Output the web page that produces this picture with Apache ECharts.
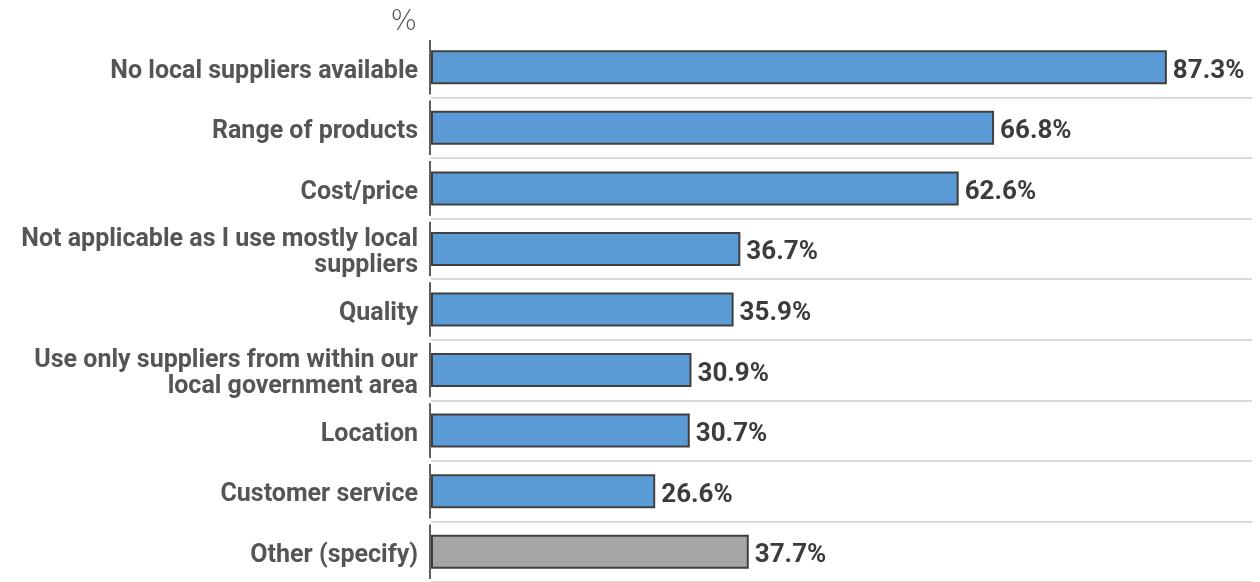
<!DOCTYPE html>
<html>
<head>
<meta charset="utf-8">
<script src="https://cdn.jsdelivr.net/npm/echarts@6/dist/echarts.min.js"></script>
<style>
  html, body { margin: 0; padding: 0; background: #ffffff; }
  #chart { width: 1260px; height: 582px; }
</style>
</head>
<body>
<div id="chart"></div>
<script>
// Reasons for buying from non-local suppliers, % of respondents
const categories = [
  'No local suppliers available',
  'Range of products',
  'Cost/price',
  'Not applicable as I use mostly local\nsuppliers',
  'Quality',
  'Use only suppliers from within our\nlocal government area',
  'Location',
  'Customer service',
  'Other (specify)'
];
const values = [87.3, 66.8, 62.6, 36.7, 35.9, 30.9, 30.7, 26.6, 37.7];
const otherIndex = 8;

const BLUE = '#5b9bd5';
const GREY = '#a5a5a5';
const LABEL = '#555555';
const VALUE = '#3c3c3c';
const FONT = 'Roboto';

const chart = echarts.init(document.getElementById('chart'), null, { renderer: 'canvas' });

chart.setOption({
  animation: false,
  backgroundColor: '#ffffff',
  graphic: [{
    type: 'text',
    right: 843,
    top: 9,
    style: { text: '%', font: '300 28px "DejaVu Sans"', fill: '#555555' }
  }],
  grid: { left: 431, right: 8, top: 37, bottom: -7, containLabel: false },
  xAxis: {
    type: 'value',
    min: 0,
    max: 97.4,
    show: false
  },
  yAxis: {
    type: 'category',
    data: categories,
    inverse: true,
    axisLine: { show: false },
    axisTick: { show: false },
    splitLine: {
      show: true,
      interval: function (idx) { return idx !== 0; },
      lineStyle: { color: '#cccccc', width: 1.5 }
    },
    axisLabel: {
      margin: 13,
      align: 'right',
      // each line set as its own rich token so it can sit a little lower in the row
      formatter: v => v.split('\n').map(s => '{t|' + s + '}').join('\n'),
      rich: {
        t: {
          fontFamily: FONT,
          fontWeight: 'bold',
          fontSize: 25,
          lineHeight: 26,
          padding: [8, 0, 0, 0],
          color: LABEL,
          align: 'right'
        }
      }
    }
  },
  series: [{
    type: 'bar',
    barWidth: 34,
    data: values.map((v, i) => ({
      value: v,
      itemStyle: { color: i === otherIndex ? GREY : BLUE }
    })),
    itemStyle: { borderColor: '#404040', borderWidth: 2 },
    label: {
      show: true,
      position: 'right',
      distance: 6,
      offset: [0, 4],
      formatter: p => p.value.toFixed(1) + '%',
      fontFamily: FONT,
      fontWeight: 'bold',
      fontSize: 26,
      color: VALUE
    }
  }, {
    // category axis drawn as one short vertical stroke per row, leaving gaps at the dividers
    type: 'custom',
    silent: true,
    data: categories.map((c, i) => [0, i]),
    encode: { x: 0, y: 1 },
    renderItem: function (params, api) {
      const p = api.coord([0, api.value(1)]);
      const band = api.size([0, 1])[1];
      return {
        type: 'line',
        shape: { x1: p[0] - 1, y1: p[1] - band / 2 + 3, x2: p[0] - 1, y2: p[1] + band / 2 - 3 },
        style: { stroke: '#5f5f5f', lineWidth: 2 }
      };
    },
    z: 3
  }]
});
</script>
</body>
</html>
